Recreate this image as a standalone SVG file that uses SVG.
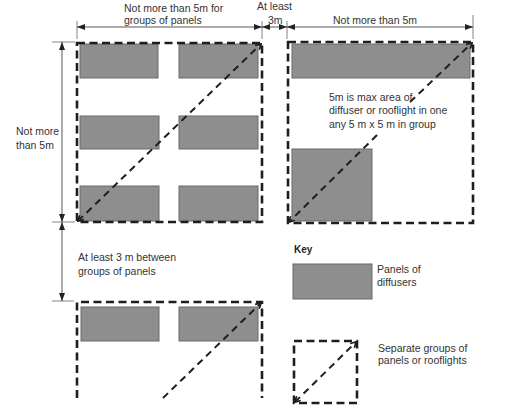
<svg xmlns="http://www.w3.org/2000/svg" width="525" height="412" viewBox="0 0 525 412">
<style>
.t{font-family:"Liberation Sans",Arial,sans-serif;font-size:10.5px;fill:#333}
.tk{font-family:"Liberation Sans",Arial,sans-serif;font-size:10px;font-weight:bold;fill:#222}
.panel{fill:#8e8e8e;stroke:#6a6a6a;stroke-width:1}
.grp{fill:none;stroke:#1e1e1e;stroke-width:2.6;stroke-dasharray:8 4.5}
.diag{fill:none;stroke:#1e1e1e;stroke-width:2;stroke-dasharray:7 5}
.dim{fill:none;stroke:#444;stroke-width:0.9;marker-start:url(#da);marker-end:url(#da)}
.ext{fill:none;stroke:#666;stroke-width:0.8}
</style>
<defs>
<marker id="da" viewBox="0 0 8 6" refX="8" refY="3" markerWidth="8" markerHeight="6" markerUnits="userSpaceOnUse" orient="auto-start-reverse"><path d="M0,0 L8,3 L0,6 z" fill="#222"/></marker>
<marker id="ca" viewBox="0 0 8 8" refX="7" refY="4" markerWidth="7" markerHeight="7" markerUnits="userSpaceOnUse" orient="auto-start-reverse"><path d="M1,0.5 L7,4 L1,7.5" fill="none" stroke="#1e1e1e" stroke-width="2"/></marker>
</defs>

<g id="dimensions">
<line class="ext" x1="77" y1="21" x2="77" y2="39"/>
<line class="ext" x1="262" y1="21" x2="262" y2="39"/>
<line class="ext" x1="287" y1="21" x2="287" y2="39"/>
<line class="ext" x1="473" y1="15" x2="473" y2="39"/>
<line class="dim" x1="77" y1="27" x2="262" y2="27"/>
<line class="dim" x1="262" y1="27" x2="287" y2="27"/>
<line class="dim" x1="287" y1="27" x2="473" y2="27"/>
<line class="ext" x1="52" y1="42" x2="75" y2="42"/>
<line class="ext" x1="52" y1="222" x2="75" y2="222"/>
<line class="ext" x1="52" y1="301" x2="74" y2="301"/>
<line class="dim" x1="62" y1="42" x2="62" y2="222"/>
<line class="dim" x1="62" y1="222" x2="62" y2="301"/>
<text class="t" x="124" y="12">Not more than 5m for</text>
<text class="t" x="124" y="24">groups of panels</text>
<text class="t" x="257" y="10">At least</text>
<text class="t" x="268" y="24">3m</text>
<text class="t" x="333" y="24">Not more than 5m</text>
<text class="t" x="16" y="135">Not more</text>
<text class="t" x="16" y="149">than 5m</text>
<text class="t" x="78" y="261">At least 3 m between</text>
<text class="t" x="78" y="275">groups of panels</text>
</g>

<g id="group-top-left">
<rect class="panel" x="80" y="44" width="78" height="34"/>
<rect class="panel" x="179" y="44" width="79" height="34"/>
<rect class="panel" x="80" y="116" width="79" height="33"/>
<rect class="panel" x="179" y="116" width="79" height="33"/>
<rect class="panel" x="80" y="186" width="79" height="35"/>
<rect class="panel" x="179" y="186" width="79" height="35"/>
<rect class="grp" x="77" y="43" width="185" height="179"/>
<line class="diag" x1="78" y1="221" x2="261" y2="44" marker-start="url(#ca)" marker-end="url(#ca)"/>
</g>

<g id="group-top-right">
<rect class="panel" x="292" y="44" width="178" height="34"/>
<rect class="panel" x="292" y="149" width="80" height="72"/>
<rect class="grp" x="288" y="42" width="185" height="181"/>
<line class="diag" x1="410" y1="102" x2="472" y2="43" marker-end="url(#ca)"/>
<line class="diag" x1="377" y1="135" x2="289" y2="222" marker-end="url(#ca)"/>
<text class="t" x="329" y="101">5m is max area of</text>
<text class="t" x="329" y="114">diffuser or rooflight in one</text>
<text class="t" x="329" y="128">any 5 m x 5 m in group</text>
</g>

<g id="group-bottom">
<rect class="panel" x="81" y="307" width="78" height="34"/>
<rect class="panel" x="179" y="307" width="79" height="34"/>
<path class="grp" d="M77,398 L77,302 L262,302 L262,398"/>
<line class="diag" x1="163" y1="398" x2="261" y2="303" marker-end="url(#ca)"/>
</g>

<g id="key">
<text class="tk" x="294" y="253">Key</text>
<rect class="panel" x="293" y="264" width="79" height="35"/>
<text class="t" x="377" y="273">Panels of</text>
<text class="t" x="377" y="286">diffusers</text>
<rect class="grp" x="294" y="341" width="63" height="62"/>
<line class="diag" x1="295" y1="402" x2="356" y2="342" marker-start="url(#ca)" marker-end="url(#ca)"/>
<text class="t" x="378" y="352">Separate groups of</text>
<text class="t" x="378" y="364">panels or rooflights</text>
</g>
</svg>
